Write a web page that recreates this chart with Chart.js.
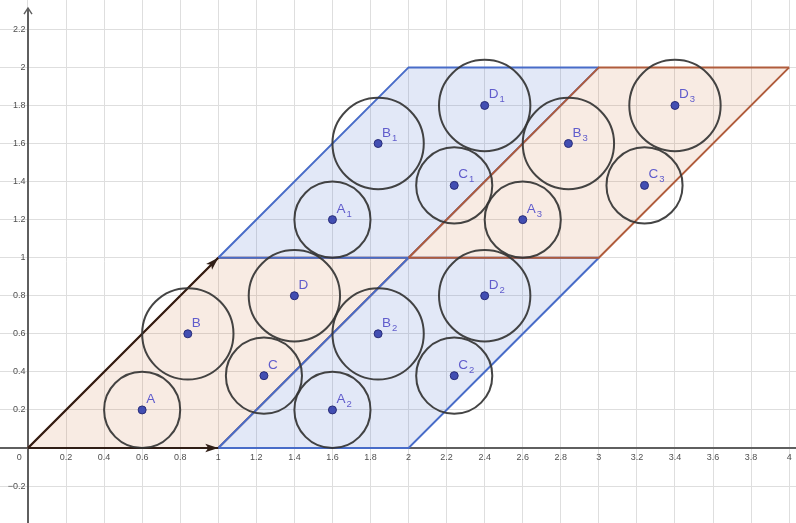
<!DOCTYPE html>
<html>
<head>
<meta charset="utf-8">
<script src="https://cdn.jsdelivr.net/npm/chart.js@4.4.1/dist/chart.umd.min.js"></script>
<style>
  html, body { margin: 0; padding: 0; background: #ffffff; }
  canvas { display: block; }
</style>
</head>
<body>
<canvas id="chart" width="796" height="523"></canvas>
<script>
// Points (circle centres) and their labels
const pointNames = ['A', 'B', 'C', 'D', 'A', 'B', 'C', 'D', 'A', 'B', 'C', 'D', 'A', 'B', 'C', 'D'];
const pointSubs  = ['', '', '', '', '1', '1', '1', '1', '2', '2', '2', '2', '3', '3', '3', '3'];
const pointX = [0.6, 0.84, 1.24, 1.4, 1.6, 1.84, 2.24, 2.4, 1.6, 1.84, 2.24, 2.4, 2.6, 2.84, 3.24, 3.4];
const pointY = [0.2, 0.6, 0.38, 0.8, 1.2, 1.6, 1.38, 1.8, 0.2, 0.6, 0.38, 0.8, 1.2, 1.6, 1.38, 1.8];
const circleR = [0.2, 0.24, 0.2, 0.24, 0.2, 0.24, 0.2, 0.24, 0.2, 0.24, 0.2, 0.24, 0.2, 0.24, 0.2, 0.24];

// Parallelogram cells, each given by its upper and lower boundary paths
const cellKind   = ['orange', 'blue', 'blue', 'orange'];
const cellUpperX = [[0, 1, 2], [1, 2, 3], [1, 2, 3], [2, 3, 4]];
const cellUpperY = [[0, 1, 1], [0, 1, 1], [1, 2, 2], [1, 2, 2]];
const cellLowerX = [[0, 1, 2], [1, 2, 3], [1, 2, 3], [2, 3, 4]];
const cellLowerY = [[0, 0, 1], [0, 0, 1], [1, 1, 2], [1, 1, 2]];

// Basis vectors drawn as arrows from the origin
const vectorX = [[0, 1], [0, 1]];
const vectorY = [[0, 0], [0, 1]];

// Axis ranges and tick spacing
const xRange = [-0.147, 4.036];
const yRange = [-0.394, 2.354];
const tickStep = 0.2;

const palette = {
  orange: { line: 'rgb(176, 92, 60)', fill: 'rgba(204, 110, 60, 0.14)' },
  blue:   { line: 'rgb(72, 108, 200)', fill: 'rgba(60, 100, 200, 0.15)' }
};
const cellOrder = [7, 6, 6, 5];

const toXY = (xs, ys) => xs.map((x, i) => ({ x, y: ys[i] }));

const datasets = [];

// Points on top
datasets.push({
  label: 'points',
  data: toXY(pointX, pointY),
  showLine: false,
  pointRadius: 4,
  pointBackgroundColor: 'rgb(66, 78, 178)',
  pointBorderColor: 'rgb(40, 44, 120)',
  pointBorderWidth: 1,
  pointLabels: true,
  order: 1
});

// Circles around each point, radius in data units
datasets.push({
  label: 'circles',
  data: toXY(pointX, pointY),
  showLine: false,
  pointStyle: 'circle',
  pointBackgroundColor: 'rgba(0,0,0,0)',
  pointBorderColor: 'rgba(52, 52, 52, 0.92)',
  pointBorderWidth: 2,
  pointRadius: (c) => {
    const s = c.chart.scales && c.chart.scales.x;
    if (!s) return 0;
    return Math.abs(s.getPixelForValue(circleR[c.dataIndex]) - s.getPixelForValue(0));
  },
  order: 2
});

// Basis vectors
vectorX.forEach((xs, i) => {
  datasets.push({
    label: 'vector' + i,
    data: toXY(xs, vectorY[i]),
    showLine: true,
    borderColor: 'rgb(48, 30, 22)',
    borderWidth: 2,
    pointRadius: 0,
    arrowHead: true,
    order: 3
  });
});

// Cells: upper path fills down to the lower path
cellKind.forEach((kind, i) => {
  const col = palette[kind];
  datasets.push({
    label: 'cell' + i + 'upper',
    data: toXY(cellUpperX[i], cellUpperY[i]),
    showLine: true,
    borderColor: col.line,
    borderWidth: 2,
    pointRadius: 0,
    fill: { target: '+1', above: col.fill, below: col.fill },
    order: cellOrder[i]
  });
  datasets.push({
    label: 'cell' + i + 'lower',
    data: toXY(cellLowerX[i], cellLowerY[i]),
    showLine: true,
    borderColor: col.line,
    borderWidth: 2,
    pointRadius: 0,
    fill: false,
    order: cellOrder[i]
  });
});

// Filled arrowhead at the end of vector datasets
const arrowHeads = {
  id: 'arrowHeads',
  afterDatasetDraw(chart, args) {
    const ds = chart.data.datasets[args.index];
    if (!ds.arrowHead) return;
    const pts = args.meta.data;
    const a = pts[pts.length - 2], b = pts[pts.length - 1];
    const ang = Math.atan2(b.y - a.y, b.x - a.x);
    const ctx = chart.ctx;
    ctx.save();
    ctx.translate(b.x, b.y);
    ctx.rotate(ang);
    ctx.beginPath();
    ctx.moveTo(0, 0);
    ctx.lineTo(-13, -4.2);
    ctx.lineTo(-10, 0);
    ctx.lineTo(-13, 4.2);
    ctx.closePath();
    ctx.fillStyle = ds.borderColor;
    ctx.fill();
    ctx.restore();
  }
};

// Vertical axis line with an open arrow at its top
const yAxisLine = {
  id: 'yAxisLine',
  beforeDatasetsDraw(chart) {
    const { ctx, chartArea } = chart;
    const x0 = Math.round(chart.scales.x.getPixelForValue(0));
    const top = chartArea.top + 8;
    ctx.save();
    ctx.strokeStyle = 'rgb(95, 95, 95)';
    ctx.lineWidth = 2;
    ctx.beginPath();
    ctx.moveTo(x0, chartArea.bottom);
    ctx.lineTo(x0, top);
    ctx.stroke();
    ctx.lineWidth = 1.4;
    ctx.beginPath();
    ctx.moveTo(x0 - 4, top + 6);
    ctx.lineTo(x0, top);
    ctx.lineTo(x0 + 4, top + 6);
    ctx.stroke();
    ctx.restore();
  }
};

// Point names with subscripts
const pointLabels = {
  id: 'pointLabels',
  afterDatasetsDraw(chart) {
    const idx = chart.data.datasets.findIndex(d => d.pointLabels);
    const meta = chart.getDatasetMeta(idx);
    const ctx = chart.ctx;
    ctx.save();
    ctx.fillStyle = 'rgb(96, 92, 204)';
    ctx.textAlign = 'left';
    ctx.textBaseline = 'alphabetic';
    meta.data.forEach((el, i) => {
      const x = el.x + 4, y = el.y - 7;
      ctx.font = '13.5px "Liberation Sans", Arial, sans-serif';
      ctx.fillText(pointNames[i], x, y);
      if (pointSubs[i]) {
        const w = ctx.measureText(pointNames[i]).width;
        ctx.font = '9.5px "Liberation Sans", Arial, sans-serif';
        ctx.fillText(pointSubs[i], x + w + 1, y + 4);
      }
    });
    ctx.restore();
  }
};

const fmt = (v) => String(Math.round(v * 10) / 10).replace('-', '\u2212');

new Chart(document.getElementById('chart'), {
  type: 'scatter',
  data: { datasets },
  plugins: [yAxisLine, arrowHeads, pointLabels],
  options: {
    responsive: false,
    animation: false,
    events: [],
    layout: { padding: 0, autoPadding: false },
    plugins: {
      legend: { display: false },
      tooltip: { enabled: false },
      filler: { drawTime: 'beforeDatasetsDraw' }
    },
    scales: {
      x: {
        type: 'linear',
        position: { y: 0 },
        min: xRange[0],
        max: xRange[1],
        grid: { color: 'rgb(222, 222, 222)', lineWidth: 1, drawTicks: false },
        border: { display: true, color: 'rgb(95, 95, 95)', width: 2 },
        ticks: {
          stepSize: tickStep,
          includeBounds: false,
          autoSkip: false,
          maxRotation: 0,
          padding: 4,
          color: 'rgb(80, 80, 80)',
          font: { family: '"Liberation Sans", Arial, sans-serif', size: 9 },
          callback: (v) => Math.abs(v) < 1e-9 ? '0' + ' '.repeat(7) : fmt(v)
        }
      },
      y: {
        type: 'linear',
        position: { x: 0 },
        min: yRange[0],
        max: yRange[1],
        grid: { color: 'rgb(222, 222, 222)', lineWidth: 1, drawTicks: false },
        border: { display: false },
        ticks: {
          stepSize: tickStep,
          includeBounds: false,
          autoSkip: false,
          padding: 0,
          color: 'rgb(80, 80, 80)',
          font: { family: '"Liberation Sans", Arial, sans-serif', size: 9, lineHeight: 0.01 },
          callback: (v) => Math.abs(v) < 1e-9 ? '' : fmt(v) + ' '
        }
      }
    }
  }
});
</script>
</body>
</html>
